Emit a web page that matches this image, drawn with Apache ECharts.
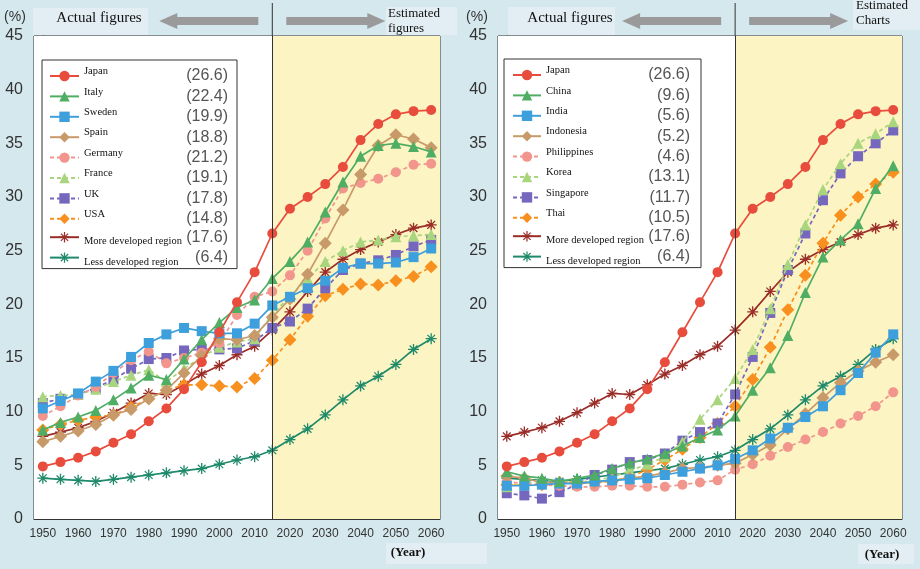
<!DOCTYPE html>
<html><head><meta charset="utf-8">
<script src="https://cdn.jsdelivr.net/npm/echarts@6/dist/echarts.min.js"></script>
<style>html,body{margin:0;padding:0;background:#d5e8ee;} #c{width:920px;height:569px;}</style>
</head><body><div id="c"></div><script>
// ---------- DATA ----------
const years = ['1950','1955','1960','1965','1970','1975','1980','1985','1990','1995','2000','2005','2010','2015','2020','2025','2030','2035','2040','2045','2050','2055','2060'];
const estimateStart = '2015';
const yTicks = {min: 0, max: 45, step: 5};

const japan       = [4.9,5.3,5.7,6.3,7.1,7.9,9.1,10.3,12.1,14.6,17.4,20.2,23.0,26.6,28.9,30.0,31.2,32.8,35.3,36.8,37.7,38.0,38.1];
const italy       = [8.3,9.0,9.5,10.1,11.1,12.2,13.4,13.0,14.9,16.7,18.3,19.7,20.4,22.4,24.0,25.8,28.6,31.4,33.8,34.8,35.0,34.7,34.2];
const sweden      = [10.3,11.0,11.7,12.8,13.8,15.1,16.4,17.2,17.8,17.5,17.3,17.3,18.2,19.9,20.7,21.5,22.2,23.4,23.8,23.8,23.9,24.4,25.2];
const spain       = [7.2,7.7,8.2,8.8,9.7,10.2,11.2,12.0,13.6,15.2,16.8,16.7,17.1,18.8,20.5,22.8,25.7,28.8,32.1,34.8,35.8,35.4,34.6];
const germany     = [9.6,10.5,11.5,12.3,13.6,14.8,15.6,14.5,15.0,15.5,16.4,19.0,20.7,21.2,22.7,25.0,28.0,30.8,31.3,31.7,32.3,33.0,33.1];
const france      = [11.4,11.5,11.6,12.1,12.8,13.4,13.9,12.8,14.0,15.1,16.0,16.5,16.8,19.1,20.7,22.4,24.0,25.0,25.8,26.0,26.3,26.4,26.5];
const uk          = [10.8,11.2,11.6,12.2,13.0,14.0,14.9,15.0,15.7,15.8,15.8,15.9,16.6,17.8,18.4,19.6,21.5,23.2,23.8,24.1,24.6,25.4,26.0];
const usa         = [8.3,8.8,9.2,9.5,9.7,10.4,11.2,12.0,12.5,12.5,12.4,12.3,13.1,14.8,16.7,18.9,20.8,21.4,21.9,21.8,22.2,22.6,23.5];
const moreDev     = [7.7,8.1,8.5,9.1,9.9,10.8,11.7,11.6,12.5,13.5,14.3,15.3,16.1,17.6,19.3,21.2,23.0,24.2,25.1,25.8,26.5,27.1,27.4];
const lessDev     = [3.8,3.7,3.6,3.5,3.7,3.9,4.1,4.3,4.5,4.7,5.1,5.5,5.8,6.4,7.4,8.4,9.7,11.1,12.4,13.3,14.4,15.8,16.8];
const china       = [4.4,4.0,3.8,3.5,3.8,4.1,4.7,5.2,5.6,6.1,6.8,7.6,8.3,9.6,12.0,14.1,17.1,21.1,24.4,26.0,27.5,30.8,32.9];
const india       = [3.1,3.1,3.2,3.3,3.3,3.5,3.6,3.7,3.8,4.1,4.4,4.7,5.0,5.6,6.4,7.5,8.5,9.5,10.5,12.0,13.6,15.5,17.2];
const indonesia   = [4.0,3.8,3.4,3.4,3.3,3.4,3.6,3.8,4.0,4.3,4.7,4.8,5.0,5.2,6.0,6.9,8.4,9.8,11.3,12.7,13.8,14.6,15.3];
const philippines = [3.5,3.3,3.2,3.1,3.0,3.0,3.1,3.1,3.0,3.0,3.2,3.4,3.6,4.6,5.1,5.9,6.7,7.4,8.1,8.9,9.6,10.5,11.8];
const korea       = [3.0,3.3,3.7,3.5,3.4,3.6,3.9,4.5,5.1,5.8,7.2,9.3,11.1,13.1,15.8,19.6,23.7,27.4,30.7,33.1,35.0,35.9,37.0];
const singapore   = [2.4,2.2,1.9,2.5,3.2,4.1,4.6,5.3,5.5,6.1,7.3,8.1,8.9,11.6,15.1,19.2,23.2,26.6,29.7,32.2,33.8,35.0,36.2];
const thai        = [3.2,3.2,3.2,3.4,3.5,3.4,3.5,3.9,4.6,5.5,6.5,7.6,8.9,10.5,13.0,16.0,19.5,22.7,25.7,28.3,30.0,31.2,32.3];

const leftNames   = ['Japan','Italy','Sweden','Spain','Germany','France','UK','USA','More developed region','Less developed region'];
const leftValues  = ['26.6','22.4','19.9','18.8','21.2','19.1','17.8','14.8','17.6','6.4'];
const leftSeries  = [japan, italy, sweden, spain, germany, france, uk, usa, moreDev, lessDev];
const rightNames  = ['Japan','China','India','Indonesia','Philippines','Korea','Singapore','Thai','More developed region','Less developed region'];
const rightValues = ['26.6','9.6','5.6','5.2','4.6','13.1','11.7','10.5','17.6','6.4'];
const rightSeries = [japan, china, india, indonesia, philippines, korea, singapore, thai, moreDev, lessDev];

// ---------- STYLE ----------
const SERIF = "'Liberation Serif','Times New Roman',serif";
const SANS = "'Liberation Sans',Arial,sans-serif";
const ASTER = 'path://M4.4,0 L5.6,0 L5.6,10 L4.4,10 Z M0,4.4 L10,4.4 L10,5.6 L0,5.6 Z M1.1,1.9 L1.9,1.1 L8.9,8.1 L8.1,8.9 Z M8.1,1.1 L8.9,1.9 L1.9,8.9 L1.1,8.1 Z';
// style slots by legend position (same in both panels)
const looks = [
  {c:'#e84c3d', dash:false, sym:'circle',   s:10},
  {c:'#4fae63', dash:false, sym:'triangle', s:11},
  {c:'#3d9fdb', dash:false, sym:'rect',     s:10},
  {c:'#c89a6a', dash:false, sym:'diamond',  s:13},
  {c:'#f2958d', dash:true,  sym:'circle',   s:10},
  {c:'#a8d57e', dash:true,  sym:'triangle', s:11},
  {c:'#7467bd', dash:true,  sym:'rect',     s:10},
  {c:'#f7901e', dash:true,  sym:'diamond',  s:13},
  {c:'#9b2d28', dash:false, sym:ASTER,      s:11},
  {c:'#1f8a6b', dash:false, sym:ASTER,      s:11}
];

function lineSeries(name, data, g, k) {
  const L = looks[k];
  return {
    type:'line', name, data, xAxisIndex:g, yAxisIndex:g,
    symbol:L.sym, symbolSize:L.s, showAllSymbol:true, z: 2 + (10 - k) * 0.01,
    lineStyle:{color:L.c, width:1.7, type:L.dash ? [4,3] : 'solid'},
    itemStyle:{color:L.c}, emphasis:{disabled:true}, animation:false
  };
}

function bgSeries(g) {
  const i = years.indexOf(estimateStart);
  return {
    type:'line', name:'bg'+g, xAxisIndex:2+g, yAxisIndex:g, data:[], z:-1, silent:true, animation:false,
    markArea:{silent:true, data:[
      [{xAxis:-0.5, itemStyle:{color:'#ffffff'}}, {xAxis:i}],
      [{xAxis:i, itemStyle:{color:'#fcf4c2'}}, {xAxis:years.length-0.5}]
    ]}
  };
}
function dividerSeries(g) {
  const i = years.indexOf(estimateStart);
  return {
    type:'line', name:'div'+g, xAxisIndex:2+g, yAxisIndex:g, data:[], z:1, silent:true, animation:false,
    markLine:{symbol:['none','none'], silent:true, animation:false, label:{show:false},
      lineStyle:{color:'#333', width:1, type:'solid'}, data:[{xAxis:i}]}
  };
}

function legendFor(names, values, left, top, iconW, padding) {
  const map = {}; names.forEach((n,i) => map[n] = values[i]);
  return {
    show:true, orient:'vertical', left, top, selectedMode:false,
    data:names.map(n => ({name:n})),
    itemWidth:iconW, itemHeight:13, itemGap:2.4, padding,
    backgroundColor:'#fff', borderColor:'#333', borderWidth:1, borderRadius:0,
    formatter: n => '{' + (/developed/.test(n) ? 'm' : 'n') + '|' + n + '}{v|(' + map[n] + ')}',
    textStyle:{rich:{
      n:{fontFamily:SERIF, fontSize:10.5, color:'#111', width:98, lineHeight:12, verticalAlign:'top'},
      m:{fontFamily:SERIF, fontSize:10.5, color:'#111', width:98, lineHeight:12, verticalAlign:'bottom'},
      v:{fontFamily:SANS, fontSize:16, color:'#555', width:46, align:'right', lineHeight:20}
    }}
  };
}

const series = [bgSeries(0), bgSeries(1), dividerSeries(0), dividerSeries(1)];
for (let k = leftNames.length - 1; k >= 0; k--) series.push(lineSeries(leftNames[k], leftSeries[k], 0, k));
for (let k = rightNames.length - 1; k >= 0; k--) series.push(lineSeries(rightNames[k], rightSeries[k], 1, k));

const option = {
  backgroundColor:'#d5e8ee',
  animation:false,
  grid:[
    {left:34, right:480, top:36, bottom:50, show:true, borderColor:'#333', borderWidth:1, outerBoundsMode:'none'},
    {left:498, right:18, top:36, bottom:50, show:true, borderColor:'#333', borderWidth:1, outerBoundsMode:'none'}
  ],
  xAxis: [0,1].map(g => ({
    type:'category', gridIndex:g, data:years, boundaryGap:true,
    axisLine:{lineStyle:{color:'#333'}},
    axisTick:{inside:true, length:5, interval:0, lineStyle:{color:'#333'}},
    axisLabel:{interval:1, color:'#333', fontFamily:SANS, fontSize:12, margin:9},
    splitLine:{show:false}
  })).concat([0,1].map(g => ({type:'value', gridIndex:g, min:-0.5, max:years.length-0.5, show:false}))),
  yAxis: [0,1].map(g => ({
    type:'value', gridIndex:g, min:yTicks.min, max:yTicks.max, interval:yTicks.step,
    axisLine:{show:true, lineStyle:{color:'#333'}}, axisTick:{show:false},
    axisLabel:{color:'#333', fontFamily:SANS, fontSize:16, margin:11},
    splitLine:{show:true, lineStyle:{color:'#3a3a3a', width:1.2}}
  })),
  legend:[
    legendFor(leftNames, leftValues, 42, 60, 29, [6,9,1,7]),
    legendFor(rightNames, rightValues, 504, 59, 28, [6,11,1,8])
  ],
  series
};

const chart = echarts.init(document.getElementById('c'), null, {renderer:'canvas'});
chart.setOption(option);

// ---------- header decorations, placed from the axes ----------
const topY = chart.convertToPixel({yAxisIndex:0}, yTicks.max);
const D = [0,1].map(g => chart.convertToPixel({xAxisIndex:g}, estimateStart));
const BOX = '#e2eef3';
const ARROW = '#9a9a9a';
function arrows(d) {
  const y = 21;
  return [
    {type:'polygon', shape:{points:[[d-113,y],[d-95,y-8],[d-95,y-4],[d-14,y-4],[d-14,y+4],[d-95,y+4],[d-95,y+8]]}, style:{fill:ARROW}},
    {type:'polygon', shape:{points:[[d+113,y],[d+95,y-8],[d+95,y-4],[d+14,y-4],[d+14,y+4],[d+95,y+4],[d+95,y+8]]}, style:{fill:ARROW}}
  ];
}
const g = [];
g.push({type:'rect', shape:{x:33,y:8,width:115,height:27}, style:{fill:BOX}});
g.push({type:'rect', shape:{x:386,y:7,width:71,height:28}, style:{fill:BOX}});
g.push({type:'rect', shape:{x:508,y:7,width:107,height:28}, style:{fill:BOX}});
g.push({type:'rect', shape:{x:853,y:0,width:67,height:30}, style:{fill:BOX}});
g.push({type:'rect', shape:{x:386,y:543,width:101,height:21}, style:{fill:BOX}});
g.push({type:'rect', shape:{x:858,y:544,width:56,height:20}, style:{fill:BOX}});
D.forEach(d => g.push({type:'line', shape:{x1:d,y1:3,x2:d,y2:topY}, style:{stroke:'#333', lineWidth:1}}));
D.forEach(d => arrows(d).forEach(a => g.push(a)));
const txt = (x, y, text, font, extra) => ({type:'text', x, y, style:Object.assign({text, font, fill:'#222', align:'center', verticalAlign:'middle'}, extra||{})});
g.push(txt(15, 17, '(%)', '14px ' + SANS, {fill:'#333'}));
g.push(txt(477, 17, '(%)', '14px ' + SANS, {fill:'#333'}));
g.push(txt(99, 18, 'Actual figures', '15px ' + SERIF, {fill:'#111'}));
g.push(txt(570, 18, 'Actual figures', '15px ' + SERIF, {fill:'#111'}));
g.push(txt(388, 21, 'Estimated\nfigures', '13px ' + SERIF, {align:'left', lineHeight:15, fill:'#111'}));
g.push(txt(856, 13, 'Estimated\nCharts', '13px ' + SERIF, {align:'left', lineHeight:15, fill:'#111'}));
g.push(txt(408, 553, '(Year)', 'bold 13px ' + SERIF, {fill:'#111'}));
g.push(txt(882, 555, '(Year)', 'bold 13px ' + SERIF, {fill:'#111'}));
const yr = (x) => ({type:'text', x, y:52, style:{
  text:'{a|(2015}{b|Year)}', align:'right', verticalAlign:'middle',
  rich:{a:{fontFamily:SANS, fontSize:15, fill:'#555'}, b:{fontFamily:SANS, fontSize:12, fill:'#555'}}}});
g.push(yr(248)); g.push(yr(713));
chart.setOption({graphic:g});
</script></body></html>
